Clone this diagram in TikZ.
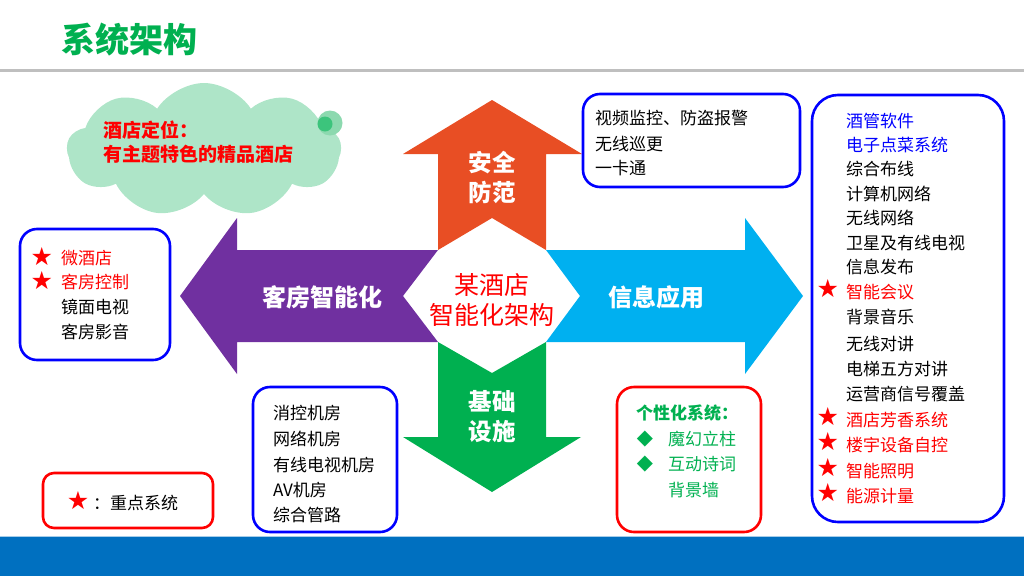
\documentclass[tikz,border=0pt]{standalone}
\usepackage{fontspec}
\setmainfont{Noto Sans CJK SC}
\newfontfamily\symfont{DejaVu Sans}
\usetikzlibrary{shapes.symbols}
\definecolor{titlegreen}{HTML}{00B050}
\definecolor{arrOrange}{HTML}{E84E24}
\definecolor{arrPurple}{HTML}{7030A0}
\definecolor{arrBlue}{HTML}{00B0F0}
\definecolor{arrGreen}{HTML}{00B050}
\definecolor{cloudfill}{HTML}{AEE5C8}
\definecolor{puffout}{HTML}{8CD9AF}
\definecolor{puffin}{HTML}{3CC47C}
\definecolor{bandblue}{HTML}{0070C0}
\definecolor{rulegray}{HTML}{BFBFBF}
\definecolor{pblue}{HTML}{0000FF}
\definecolor{pred}{HTML}{FF0000}
\definecolor{pgreen}{HTML}{00B050}
\tikzset{
  every node/.style={inner sep=0pt, outer sep=0pt},
  item/.style={anchor=west, font=\fontsize{17}{20}\selectfont, text=black},
  starmark/.style={anchor=east, font=\symfont\fontsize{25}{26}\selectfont, text=pred},
  arrlabel/.style={align=center, text=white, font=\fontsize{23.5}{30}\selectfont\bfseries},
  bluebox/.style={draw=pblue, line width=2.6pt, rounded corners=17pt},
  redbox/.style={draw=pred, line width=2.6pt, rounded corners=17pt},
}
\begin{document}
\begin{tikzpicture}[x=1pt,y=-1pt]
\useasboundingbox (0,0) rectangle (1024,576);
% header and footer
\fill[rulegray] (0,68.5) rectangle (1024,71.5);
\fill[bandblue] (0,537) rectangle (1024,576);
\fill[bandblue!35] (0,536) rectangle (1024,537);
\node[anchor=west, font=\fontsize{34}{38}\selectfont\bfseries, text=titlegreen] (title) at (61,40) {系统架构};

% cloud
\node[cloud, cloud puffs=9, cloud puff arc=115, aspect=2, fill=cloudfill,
      minimum width=274pt, minimum height=134pt] (cloud) at (204,150) {};
\fill[puffout] (330,123) circle (12.5);
\fill[puffin] (325,124) circle (7.5);
\node[anchor=west, align=left, text=pred, font=\fontsize{19}{24}\selectfont\bfseries] (pos) at (103,142) {酒店定位：\\有主题特色的精品酒店};

% four arrows
\fill[arrOrange] (492,100) -- (582,154) -- (546,154) -- (546,250) -- (492,218) -- (438,250) -- (438,154) -- (403,154) -- cycle;
\fill[arrPurple] (180,296) -- (237,218) -- (237,250) -- (438,250) -- (403,296) -- (438,342) -- (237,342) -- (237,374) -- cycle;
\fill[arrBlue] (803,296) -- (745,218) -- (745,250) -- (546,250) -- (580,296) -- (546,342) -- (745,342) -- (745,374) -- cycle;
\fill[arrGreen] (492,492) -- (581,437) -- (546,437) -- (546,342) -- (492,373) -- (438,342) -- (438,437) -- (403,437) -- cycle;

\node[arrlabel] (safe) at (492,177) {安全\\防范};
\node[arrlabel] (base) at (492,417) {基础\\设施};
\node[arrlabel, font=\fontsize{24}{30}\selectfont\bfseries] (room) at (322,297) {客房智能化};
\node[arrlabel, font=\fontsize{24}{30}\selectfont\bfseries] (info) at (656,297) {信息应用};
\node[align=center, text=pred, font=\fontsize{25}{30}\selectfont] (center) at (492,300) {某酒店\\智能化架构};

% left box
\draw[bluebox] (20,229) rectangle (170,360);
\foreach \y/\c/\t/\s [count=\i] in {258/pred/微酒店/1, 282/pred/客房控制/1, 307/black/镜面电视/0, 332/black/客房影音/0}{
  \node[item, text=\c] (l\i) at (61,\y) {\t};
  \ifnum\s=1 \node[starmark] (ls\i) at ([xshift=-8pt,yshift=1pt]l\i.west) {★};\fi
}

% top right box
\draw[bluebox] (583,94) rectangle (800,187);
\foreach \y/\t [count=\i] in {118/视频监控、防盗报警, 144/无线巡更, 168/一卡通}{
  \node[item] (t\i) at (595,\y) {\t};
}

% right big box
\draw[bluebox, rounded corners=26pt] (812,95) rectangle (1004,522);
\foreach \y/\c/\t/\s [count=\i] in {
  121/pblue/酒管软件/0, 145/pblue/电子点菜系统/0, 169/black/综合布线/0,
  194/black/计算机网络/0, 218/black/无线网络/0, 243/black/卫星及有线电视/0,
  267/black/信息发布/0, 292/pred/智能会议/1, 317/black/背景音乐/0,
  344/black/无线对讲/0, 369/black/电梯五方对讲/0, 394/black/运营商信号覆盖/0,
  420/pred/酒店芳香系统/1, 445/pred/楼宇设备自控/1, 471/pred/智能照明/1,
  496/pred/能源计量/1}{
  \node[item, text=\c] (r\i) at (846,\y) {\t};
  \ifnum\s=1 \node[starmark] (rs\i) at ([xshift=-7pt,yshift=3pt]r\i.west) {★};\fi
}

% bottom middle box
\draw[bluebox] (253,387) rectangle (397,532);
\foreach \y/\t [count=\i] in {413/消控机房, 439/网络机房, 465/有线电视机房, 490/AV机房, 515/综合管路}{
  \node[item] (b\i) at (273,\y) {\t};
}

% personalised box
\draw[redbox] (617,387) rectangle (761,532);
\node[item, text=pgreen, font=\fontsize{17}{20}\selectfont\bfseries] (p0) at (636,413) {个性化系统：};
\foreach \y/\t/\s [count=\i] in {439/魔幻立柱/1, 464/互动诗词/1, 490/背景墙/0}{
  \node[item, text=pgreen] (p\i) at (668,\y) {\t};
  \ifnum\s=1 \node[font=\symfont\fontsize{21}{22}\selectfont, text=pgreen] (pd\i) at (645,\y) {◆};\fi
}

% legend box
\draw[redbox, rounded corners=11pt] (43,473) rectangle (213,528);
\node[starmark, anchor=center] (legstar) at (78,501) {★};
\node[item] (legtext) at (93,503) {：重点系统};
\end{tikzpicture}
\end{document}
